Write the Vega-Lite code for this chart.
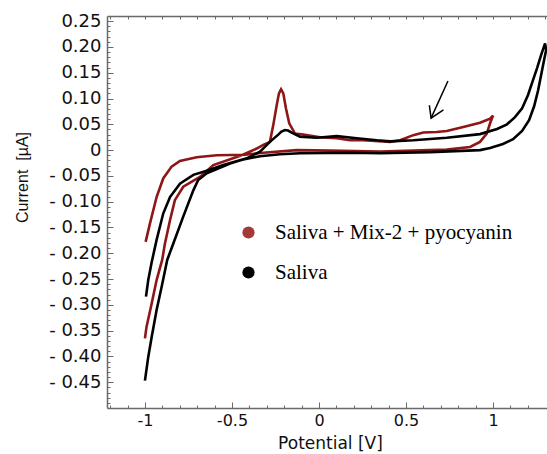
{
  "$schema": "https://vega.github.io/schema/vega-lite/v6.json",
  "width": 440,
  "height": 392,
  "autosize": "none",
  "padding": {"left": 107, "top": 16, "right": 0, "bottom": 46},
  "background": "white",
  "config": {
    "view": {"stroke": null},
    "axis": {"domain": false, "grid": false, "tickColor": "#6a6a6a", "tickWidth": 1, "domainColor": "#6a6a6a", "domainWidth": 1.5}
  },
  "datasets": {
    "cv": [
      {"series": "Saliva + Mix-2 + pyocyanin", "order": 1, "potential": -1.000, "current": -0.365},
      {"series": "Saliva + Mix-2 + pyocyanin", "order": 2, "potential": -0.991, "current": -0.343},
      {"series": "Saliva + Mix-2 + pyocyanin", "order": 3, "potential": -0.961, "current": -0.297},
      {"series": "Saliva + Mix-2 + pyocyanin", "order": 4, "potential": -0.933, "current": -0.252},
      {"series": "Saliva + Mix-2 + pyocyanin", "order": 5, "potential": -0.901, "current": -0.213},
      {"series": "Saliva + Mix-2 + pyocyanin", "order": 6, "potential": -0.885, "current": -0.181},
      {"series": "Saliva + Mix-2 + pyocyanin", "order": 7, "potential": -0.856, "current": -0.136},
      {"series": "Saliva + Mix-2 + pyocyanin", "order": 8, "potential": -0.828, "current": -0.097},
      {"series": "Saliva + Mix-2 + pyocyanin", "order": 9, "potential": -0.780, "current": -0.071},
      {"series": "Saliva + Mix-2 + pyocyanin", "order": 10, "potential": -0.684, "current": -0.052},
      {"series": "Saliva + Mix-2 + pyocyanin", "order": 11, "potential": -0.607, "current": -0.029},
      {"series": "Saliva + Mix-2 + pyocyanin", "order": 12, "potential": -0.444, "current": -0.010},
      {"series": "Saliva + Mix-2 + pyocyanin", "order": 13, "potential": -0.358, "current": 0.003},
      {"series": "Saliva + Mix-2 + pyocyanin", "order": 14, "potential": -0.320, "current": 0.010},
      {"series": "Saliva + Mix-2 + pyocyanin", "order": 15, "potential": -0.282, "current": 0.016},
      {"series": "Saliva + Mix-2 + pyocyanin", "order": 16, "potential": -0.263, "current": 0.048},
      {"series": "Saliva + Mix-2 + pyocyanin", "order": 17, "potential": -0.243, "current": 0.087},
      {"series": "Saliva + Mix-2 + pyocyanin", "order": 18, "potential": -0.230, "current": 0.110},
      {"series": "Saliva + Mix-2 + pyocyanin", "order": 19, "potential": -0.218, "current": 0.118},
      {"series": "Saliva + Mix-2 + pyocyanin", "order": 20, "potential": -0.205, "current": 0.110},
      {"series": "Saliva + Mix-2 + pyocyanin", "order": 21, "potential": -0.190, "current": 0.081},
      {"series": "Saliva + Mix-2 + pyocyanin", "order": 22, "potential": -0.171, "current": 0.052},
      {"series": "Saliva + Mix-2 + pyocyanin", "order": 23, "potential": -0.138, "current": 0.032},
      {"series": "Saliva + Mix-2 + pyocyanin", "order": 24, "potential": -0.090, "current": 0.030},
      {"series": "Saliva + Mix-2 + pyocyanin", "order": 25, "potential": 0.006, "current": 0.025},
      {"series": "Saliva + Mix-2 + pyocyanin", "order": 26, "potential": 0.102, "current": 0.023},
      {"series": "Saliva + Mix-2 + pyocyanin", "order": 27, "potential": 0.178, "current": 0.019},
      {"series": "Saliva + Mix-2 + pyocyanin", "order": 28, "potential": 0.255, "current": 0.019},
      {"series": "Saliva + Mix-2 + pyocyanin", "order": 29, "potential": 0.408, "current": 0.016},
      {"series": "Saliva + Mix-2 + pyocyanin", "order": 30, "potential": 0.466, "current": 0.019},
      {"series": "Saliva + Mix-2 + pyocyanin", "order": 31, "potential": 0.542, "current": 0.029},
      {"series": "Saliva + Mix-2 + pyocyanin", "order": 32, "potential": 0.599, "current": 0.034},
      {"series": "Saliva + Mix-2 + pyocyanin", "order": 33, "potential": 0.676, "current": 0.035},
      {"series": "Saliva + Mix-2 + pyocyanin", "order": 34, "potential": 0.734, "current": 0.037},
      {"series": "Saliva + Mix-2 + pyocyanin", "order": 35, "potential": 0.829, "current": 0.045},
      {"series": "Saliva + Mix-2 + pyocyanin", "order": 36, "potential": 0.925, "current": 0.053},
      {"series": "Saliva + Mix-2 + pyocyanin", "order": 37, "potential": 0.983, "current": 0.061},
      {"series": "Saliva + Mix-2 + pyocyanin", "order": 38, "potential": 1.000, "current": 0.067},
      {"series": "Saliva + Mix-2 + pyocyanin", "order": 39, "potential": 0.983, "current": 0.052},
      {"series": "Saliva + Mix-2 + pyocyanin", "order": 40, "potential": 0.964, "current": 0.032},
      {"series": "Saliva + Mix-2 + pyocyanin", "order": 41, "potential": 0.925, "current": 0.016},
      {"series": "Saliva + Mix-2 + pyocyanin", "order": 42, "potential": 0.868, "current": 0.006},
      {"series": "Saliva + Mix-2 + pyocyanin", "order": 43, "potential": 0.734, "current": 0.001},
      {"series": "Saliva + Mix-2 + pyocyanin", "order": 44, "potential": 0.542, "current": -0.001},
      {"series": "Saliva + Mix-2 + pyocyanin", "order": 45, "potential": 0.351, "current": -0.003},
      {"series": "Saliva + Mix-2 + pyocyanin", "order": 46, "potential": 0.063, "current": -0.001},
      {"series": "Saliva + Mix-2 + pyocyanin", "order": 47, "potential": -0.128, "current": 0.000},
      {"series": "Saliva + Mix-2 + pyocyanin", "order": 48, "potential": -0.320, "current": -0.005},
      {"series": "Saliva + Mix-2 + pyocyanin", "order": 49, "potential": -0.425, "current": -0.009},
      {"series": "Saliva + Mix-2 + pyocyanin", "order": 50, "potential": -0.588, "current": -0.010},
      {"series": "Saliva + Mix-2 + pyocyanin", "order": 51, "potential": -0.703, "current": -0.014},
      {"series": "Saliva + Mix-2 + pyocyanin", "order": 52, "potential": -0.799, "current": -0.021},
      {"series": "Saliva + Mix-2 + pyocyanin", "order": 53, "potential": -0.847, "current": -0.032},
      {"series": "Saliva + Mix-2 + pyocyanin", "order": 54, "potential": -0.895, "current": -0.055},
      {"series": "Saliva + Mix-2 + pyocyanin", "order": 55, "potential": -0.933, "current": -0.091},
      {"series": "Saliva + Mix-2 + pyocyanin", "order": 56, "potential": -0.971, "current": -0.142},
      {"series": "Saliva + Mix-2 + pyocyanin", "order": 57, "potential": -0.996, "current": -0.178},
      {"series": "Saliva", "order": 1, "potential": -1.000, "current": -0.447},
      {"series": "Saliva", "order": 2, "potential": -0.981, "current": -0.401},
      {"series": "Saliva", "order": 3, "potential": -0.961, "current": -0.362},
      {"series": "Saliva", "order": 4, "potential": -0.933, "current": -0.310},
      {"series": "Saliva", "order": 5, "potential": -0.904, "current": -0.265},
      {"series": "Saliva", "order": 6, "potential": -0.872, "current": -0.213},
      {"series": "Saliva", "order": 7, "potential": -0.837, "current": -0.181},
      {"series": "Saliva", "order": 8, "potential": -0.780, "current": -0.129},
      {"series": "Saliva", "order": 9, "potential": -0.722, "current": -0.078},
      {"series": "Saliva", "order": 10, "potential": -0.694, "current": -0.058},
      {"series": "Saliva", "order": 11, "potential": -0.645, "current": -0.045},
      {"series": "Saliva", "order": 12, "potential": -0.511, "current": -0.026},
      {"series": "Saliva", "order": 13, "potential": -0.416, "current": -0.016},
      {"series": "Saliva", "order": 14, "potential": -0.339, "current": -0.003},
      {"series": "Saliva", "order": 15, "potential": -0.282, "current": 0.016},
      {"series": "Saliva", "order": 16, "potential": -0.234, "current": 0.030},
      {"series": "Saliva", "order": 17, "potential": -0.216, "current": 0.036},
      {"series": "Saliva", "order": 18, "potential": -0.195, "current": 0.039},
      {"series": "Saliva", "order": 19, "potential": -0.178, "current": 0.038},
      {"series": "Saliva", "order": 20, "potential": -0.157, "current": 0.034},
      {"series": "Saliva", "order": 21, "potential": -0.109, "current": 0.026},
      {"series": "Saliva", "order": 22, "potential": -0.013, "current": 0.024},
      {"series": "Saliva", "order": 23, "potential": 0.102, "current": 0.027},
      {"series": "Saliva", "order": 24, "potential": 0.217, "current": 0.023},
      {"series": "Saliva", "order": 25, "potential": 0.332, "current": 0.019},
      {"series": "Saliva", "order": 26, "potential": 0.408, "current": 0.017},
      {"series": "Saliva", "order": 27, "potential": 0.542, "current": 0.019},
      {"series": "Saliva", "order": 28, "potential": 0.734, "current": 0.024},
      {"series": "Saliva", "order": 29, "potential": 0.925, "current": 0.031},
      {"series": "Saliva", "order": 30, "potential": 1.023, "current": 0.041},
      {"series": "Saliva", "order": 31, "potential": 1.080, "current": 0.050},
      {"series": "Saliva", "order": 32, "potential": 1.126, "current": 0.064},
      {"series": "Saliva", "order": 33, "potential": 1.167, "current": 0.081},
      {"series": "Saliva", "order": 34, "potential": 1.201, "current": 0.107},
      {"series": "Saliva", "order": 35, "potential": 1.230, "current": 0.136},
      {"series": "Saliva", "order": 36, "potential": 1.253, "current": 0.159},
      {"series": "Saliva", "order": 37, "potential": 1.276, "current": 0.184},
      {"series": "Saliva", "order": 38, "potential": 1.299, "current": 0.207},
      {"series": "Saliva", "order": 39, "potential": 1.305, "current": 0.194},
      {"series": "Saliva", "order": 40, "potential": 1.293, "current": 0.174},
      {"series": "Saliva", "order": 41, "potential": 1.276, "current": 0.145},
      {"series": "Saliva", "order": 42, "potential": 1.259, "current": 0.116},
      {"series": "Saliva", "order": 43, "potential": 1.236, "current": 0.085},
      {"series": "Saliva", "order": 44, "potential": 1.207, "current": 0.058},
      {"series": "Saliva", "order": 45, "potential": 1.167, "current": 0.037},
      {"series": "Saliva", "order": 46, "potential": 1.115, "current": 0.021},
      {"series": "Saliva", "order": 47, "potential": 1.057, "current": 0.012},
      {"series": "Saliva", "order": 48, "potential": 0.983, "current": 0.004},
      {"series": "Saliva", "order": 49, "potential": 0.925, "current": 0.000},
      {"series": "Saliva", "order": 50, "potential": 0.638, "current": -0.004},
      {"series": "Saliva", "order": 51, "potential": 0.351, "current": -0.006},
      {"series": "Saliva", "order": 52, "potential": 0.178, "current": -0.005},
      {"series": "Saliva", "order": 53, "potential": -0.109, "current": -0.006},
      {"series": "Saliva", "order": 54, "potential": -0.224, "current": -0.008},
      {"series": "Saliva", "order": 55, "potential": -0.339, "current": -0.012},
      {"series": "Saliva", "order": 56, "potential": -0.435, "current": -0.018},
      {"series": "Saliva", "order": 57, "potential": -0.550, "current": -0.029},
      {"series": "Saliva", "order": 58, "potential": -0.645, "current": -0.040},
      {"series": "Saliva", "order": 59, "potential": -0.722, "current": -0.048},
      {"series": "Saliva", "order": 60, "potential": -0.799, "current": -0.065},
      {"series": "Saliva", "order": 61, "potential": -0.856, "current": -0.091},
      {"series": "Saliva", "order": 62, "potential": -0.895, "current": -0.123},
      {"series": "Saliva", "order": 63, "potential": -0.933, "current": -0.174},
      {"series": "Saliva", "order": 64, "potential": -0.961, "current": -0.217},
      {"series": "Saliva", "order": 65, "potential": -0.981, "current": -0.252},
      {"series": "Saliva", "order": 66, "potential": -0.994, "current": -0.284}
    ],
    "shaft": [
      {"part": "shaft", "order": 1, "potential": 0.741, "current": 0.134},
      {"part": "shaft", "order": 2, "potential": 0.644, "current": 0.062}
    ],
    "head": [
      {"part": "head", "order": 1, "potential": 0.634, "current": 0.087},
      {"part": "head", "order": 2, "potential": 0.644, "current": 0.062},
      {"part": "head", "order": 3, "potential": 0.715, "current": 0.078}
    ]
  },
  "resolve": {"axis": {"x": "independent", "y": "independent"}},
  "layer": [
    {
      "data": {"name": "cv"},
      "mark": {"type": "line", "strokeWidth": 2.6, "clip": true},
      "encoding": {
        "x": {
          "field": "potential", "type": "quantitative",
          "scale": {"domain": [-1.218, 1.31], "nice": false, "zero": false},
          "axis": {
            "orient": "bottom", "domain": true,
            "values": [-1, -0.5, 0, 0.5, 1],
            "labelExpr": "datum.value + ''",
            "tickSize": -6,
            "labelPadding": 10,
            "labelFont": "DejaVu Sans", "labelFontSize": 16, "labelColor": "#111111",
            "labelBaseline": "top",
            "title": "Potential [V]",
            "titleFont": "DejaVu Sans", "titleFontSize": 17, "titleFontWeight": "normal", "titleColor": "#111111",
            "titleX": 223, "titleY": 35, "titleBaseline": "middle", "titleAlign": "center"
          }
        },
        "y": {
          "field": "current", "type": "quantitative",
          "scale": {"domain": [-0.5, 0.26], "nice": false, "zero": false},
          "axis": {
            "orient": "left", "domain": true,
            "values": [0.25, 0.2, 0.15, 0.1, 0.05, 0, -0.05, -0.1, -0.15, -0.2, -0.25, -0.3, -0.35, -0.4, -0.45],
            "labelExpr": "datum.value == 0 ? '0' : (datum.value < 0 ? '- ' + format(-datum.value, '.2f') : format(datum.value, '.2f'))",
            "tickSize": -6,
            "labelPadding": 12,
            "labelFont": "DejaVu Sans", "labelFontSize": 18, "labelColor": "#111111",
            "title": "Current\u00a0 [µA]",
            "titleFont": "Liberation Sans", "titleFontSize": 16, "titleFontWeight": "normal", "titleColor": "#111111",
            "titleX": -85, "titleY": 161, "titleAngle": 270, "titleBaseline": "middle", "titleAlign": "center"
          }
        },
        "color": {
          "field": "series", "type": "nominal",
          "scale": {"domain": ["Saliva + Mix-2 + pyocyanin", "Saliva"], "range": ["#8e1616", "#000000"]},
          "legend": {
            "orient": "none", "legendX": 131, "legendY": 206,
            "title": null, "padding": 0, "labelLimit": 0,
            "symbolType": "circle", "symbolSize": 150, "symbolStrokeWidth": 0,
            "labelFont": "Liberation Serif", "labelFontSize": 21, "labelColor": "#000000",
            "labelOffset": 16, "rowPadding": 18,
            "encode": {"symbols": {"update": {"fill": {"signal": "datum.value == 'Saliva' ? '#000000' : '#a33a3a'"}, "opacity": {"value": 1}}}}
          }
        },
        "order": {"field": "order", "type": "quantitative"}
      }
    },
    {
      "data": {"name": "shaft"},
      "mark": {"type": "line", "color": "#000000", "strokeWidth": 1.5},
      "encoding": {
        "x": {
          "field": "potential", "type": "quantitative",
          "axis": {
            "orient": "bottom", "labels": false, "title": null, "tickSize": -3,
            "values": [-1.2, -1.1, -0.9, -0.8, -0.7, -0.6, -0.4, -0.3, -0.2, -0.1, 0.1, 0.2, 0.3, 0.4, 0.6, 0.7, 0.8, 0.9, 1.1, 1.2]
          }
        },
        "y": {
          "field": "current", "type": "quantitative",
          "axis": {
            "orient": "left", "labels": false, "title": null, "tickSize": -3,
            "values": [-0.49, -0.48, -0.47, -0.46, -0.44, -0.43, -0.42, -0.41, -0.39, -0.38, -0.37, -0.36, -0.34, -0.33, -0.32, -0.31, -0.29, -0.28, -0.27, -0.26, -0.24, -0.23, -0.22, -0.21, -0.19, -0.18, -0.17, -0.16, -0.14, -0.13, -0.12, -0.11, -0.09, -0.08, -0.07, -0.06, -0.04, -0.03, -0.02, -0.01, 0.01, 0.02, 0.03, 0.04, 0.06, 0.07, 0.08, 0.09, 0.11, 0.12, 0.13, 0.14, 0.16, 0.17, 0.18, 0.19, 0.21, 0.22, 0.23, 0.24]
          }
        },
        "order": {"field": "order", "type": "quantitative"}
      }
    },
    {
      "data": {"name": "head"},
      "mark": {"type": "line", "color": "#000000", "strokeWidth": 1.5},
      "encoding": {
        "x": {
          "field": "potential", "type": "quantitative",
          "axis": {
            "orient": "top", "labels": false, "title": null, "tickSize": -3, "domain": true,
            "values": [-1.2, -1.1, -1, -0.9, -0.8, -0.7, -0.6, -0.5, -0.4, -0.3, -0.2, -0.1, 0, 0.1, 0.2, 0.3, 0.4, 0.5, 0.6, 0.7, 0.8, 0.9, 1, 1.1, 1.2, 1.3]
          }
        },
        "y": {"field": "current", "type": "quantitative", "axis": null},
        "order": {"field": "order", "type": "quantitative"}
      }
    }
  ]
}
